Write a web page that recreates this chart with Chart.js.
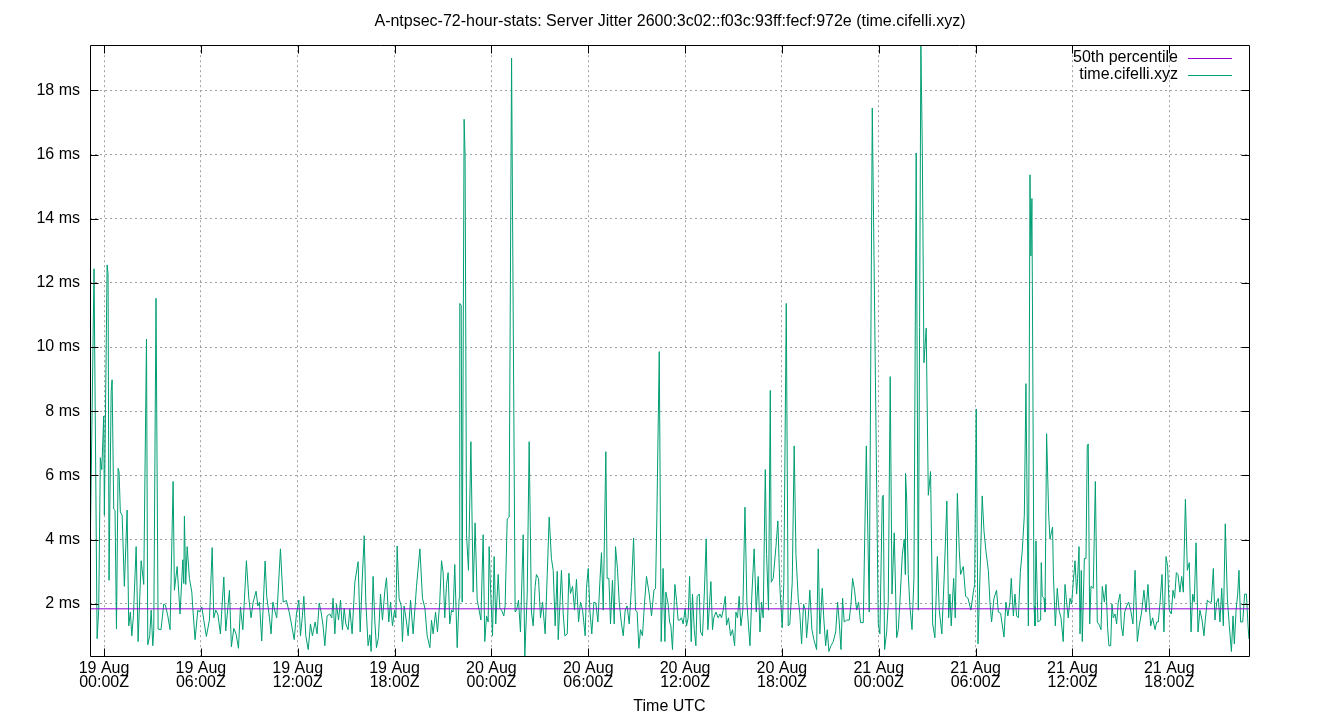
<!DOCTYPE html>
<html><head><meta charset="utf-8">
<script src="https://cdn.jsdelivr.net/npm/chart.js@4/dist/chart.umd.min.js"></script>
<style>html,body{margin:0;padding:0;background:#fff}#wrap{width:1340px;height:720px}</style>
</head><body><div id="wrap"><canvas id="c" width="1340" height="720"></canvas></div>
<script>
// hours since 19 Aug 00:00Z
const hours = [
-0.87,-0.62,-0.43,-0.33,-0.23,-0.14,-0.02,0.02,0.19,0.25,0.31,0.44,0.50,0.60,0.68,0.77,0.87,0.93,1.01,1.12,
1.26,1.43,1.53,1.63,1.72,1.82,1.99,2.11,2.30,2.46,2.63,2.71,2.83,2.92,3.02,3.08,3.22,3.35,3.53,3.70,
3.80,3.95,4.09,4.28,4.36,4.53,4.71,4.88,4.94,4.98,5.06,5.15,5.29,5.44,5.50,5.64,5.81,5.91,6.06,6.18,
6.34,6.53,6.70,6.80,6.92,7.05,7.21,7.42,7.54,7.77,7.89,8.04,8.18,8.33,8.45,8.60,8.82,8.97,9.11,9.24,
9.42,9.53,9.63,9.77,9.98,10.08,10.25,10.35,10.46,10.60,10.70,10.93,11.10,11.30,11.47,11.61,11.78,11.92,12.07,12.17,
12.29,12.38,12.50,12.65,12.79,12.91,13.08,13.20,13.33,13.45,13.57,13.68,13.82,13.99,14.11,14.19,14.30,14.40,14.53,14.65,
14.77,14.88,14.98,15.12,15.23,15.37,15.54,15.74,15.87,15.99,16.12,16.22,16.36,16.47,16.55,16.67,16.78,16.88,17.00,17.13,
17.25,17.40,17.50,17.64,17.75,17.87,18.00,18.08,18.16,18.28,18.41,18.49,18.59,18.74,18.84,18.99,19.15,19.36,19.57,19.73,
19.88,20.02,20.19,20.29,20.39,20.54,20.66,20.80,20.91,21.01,21.11,21.22,21.32,21.42,21.53,21.63,21.73,21.88,22.00,22.04,
22.13,22.19,22.31,22.37,22.46,22.58,22.73,22.87,22.99,23.12,23.24,23.35,23.49,23.59,23.70,23.80,23.86,23.96,24.07,24.17,
24.27,24.42,24.52,24.63,24.77,24.85,24.98,25.10,25.25,25.47,25.56,25.68,25.80,25.97,26.07,26.22,26.34,26.48,26.59,26.71,
26.79,26.92,27.04,27.17,27.33,27.46,27.58,27.72,27.83,27.95,28.08,28.14,28.24,28.34,28.45,28.55,28.70,28.80,28.90,29.03,
29.15,29.27,29.40,29.52,29.65,29.81,29.89,30.00,30.10,30.22,30.35,30.47,30.60,30.72,30.82,30.93,31.09,31.17,31.28,31.38,
31.50,31.61,31.69,31.81,31.92,32.06,32.17,32.29,32.41,32.54,32.68,32.81,32.93,33.03,33.14,33.24,33.36,33.49,33.61,33.78,
33.92,34.07,34.17,34.25,34.40,34.52,34.64,34.75,34.81,34.95,35.04,35.12,35.22,35.37,35.47,35.57,35.68,35.78,35.88,36.01,
36.09,36.19,36.28,36.38,36.46,36.57,36.67,36.75,36.88,36.96,37.08,37.19,37.31,37.41,37.50,37.60,37.70,37.78,37.91,38.05,
38.16,38.26,38.36,38.49,38.57,38.69,38.82,38.94,39.07,39.15,39.25,39.35,39.46,39.58,39.71,39.83,39.93,40.02,40.14,40.28,
40.41,40.53,40.64,40.74,40.84,40.97,41.05,41.17,41.28,41.34,41.46,41.63,41.75,41.87,42.02,42.12,42.27,42.39,42.49,42.64,
42.76,42.87,43.01,43.11,43.22,43.34,43.45,43.53,43.63,43.73,43.86,43.98,44.15,44.25,44.35,44.50,44.60,44.71,44.81,44.91,
45.04,45.18,45.33,45.45,45.55,45.66,45.76,45.86,46.01,46.17,46.28,46.38,46.50,46.63,46.75,46.87,47.04,47.23,47.41,47.60,
47.97,48.07,48.22,48.28,48.36,48.49,48.59,48.71,48.82,48.96,49.11,49.21,49.31,49.46,49.58,49.64,49.66,49.73,49.83,49.93,
50.06,50.18,50.32,50.45,50.61,50.70,50.80,50.94,51.07,51.21,51.34,51.48,51.63,51.75,51.91,52.06,52.22,52.33,52.41,52.49,
52.64,52.74,52.87,52.99,53.07,53.24,53.38,53.53,53.71,53.86,53.94,54.04,54.15,54.31,54.41,54.52,54.64,54.79,54.89,54.99,
55.14,55.30,55.41,55.55,55.76,55.88,56.00,56.13,56.21,56.34,56.44,56.54,56.65,56.77,56.89,57.02,57.12,57.27,57.37,57.43,
57.49,57.62,57.68,57.74,57.86,58.03,58.07,58.13,58.24,58.30,58.40,58.53,58.61,58.77,58.82,58.94,59.06,59.17,59.29,59.43,
59.54,59.64,59.74,59.85,59.95,60.05,60.16,60.26,60.32,60.41,60.47,60.55,60.61,60.74,60.84,60.92,60.98,61.07,61.15,61.29,
61.42,61.54,61.67,61.77,61.85,61.98,62.08,62.18,62.26,62.37,62.45,62.53,62.64,62.74,62.84,62.95,63.03,63.13,63.24,63.36,
63.48,63.61,63.75,63.88,64.02,64.14,64.29,64.43,64.56,64.68,64.76,64.85,64.97,65.12,65.22,65.32,65.43,65.55,65.67,65.80,
65.90,66.00,66.13,66.23,66.33,66.44,66.54,66.66,66.77,66.87,67.00,67.12,67.24,67.35,67.45,67.55,67.66,67.78,67.90,68.03,
68.15,68.23,68.36,68.48,68.61,68.73,68.83,68.94,69.04,69.14,69.25,69.35,69.47,69.60,69.72,69.85,69.95,70.03,70.14,70.24,
70.32,70.42,70.55,70.67,70.78,70.88,70.94
];
// server jitter, ms
const jitterMs = [
3.2,12.44,0.91,1.8,6.55,6.18,7.85,4.76,12.56,12.29,2.73,8.61,8.98,4.95,4.91,1.21,6.22,6.12,4.86,4.76,
2.54,4.92,1.31,1.74,1.0,1.62,3.78,0.82,3.34,2.6,10.25,0.72,1.0,1.8,0.69,1.15,11.52,1.21,1.19,1.99,
1.96,1.62,1.19,5.81,2.42,3.16,1.68,3.37,2.63,4.73,2.6,3.78,2.79,2.36,1.86,0.88,1.8,1.74,1.9,1.49,
0.98,1.49,3.75,1.56,1.8,1.68,1.06,2.83,1.15,2.42,0.66,1.23,1.06,0.61,1.9,1.19,3.34,2.17,1.56,2.05,
2.39,1.93,2.05,0.84,3.33,2.23,1.56,1.06,2.05,1.74,1.56,3.71,2.05,2.1,1.74,1.37,0.88,1.68,2.11,1.0,
1.62,2.23,1.0,0.57,1.37,1.0,1.43,1.06,2.02,1.74,1.31,0.69,1.62,1.68,1.56,2.17,1.06,1.99,1.49,2.11,
1.19,1.86,1.37,1.19,1.84,1.06,2.67,3.31,1.12,2.67,4.12,2.05,0.69,1.03,0.51,2.85,1.43,0.63,0.94,2.3,
1.49,2.42,2.81,1.43,2.05,1.31,1.8,1.56,3.8,2.17,1.93,0.82,1.93,1.43,1.0,2.11,1.06,2.54,3.71,2.17,
1.86,1.0,0.63,1.49,1.06,1.74,1.12,2.05,3.34,2.97,1.56,2.6,2.97,1.37,1.8,1.74,3.22,0.63,2.17,11.36,
11.3,2.05,17.1,15.99,4.15,3.04,7.05,2.36,4.52,2.11,1.8,1.49,4.15,0.82,1.62,1.43,3.78,2.3,1.0,3.47,
1.37,2.91,1.86,1.8,1.62,1.93,4.64,4.7,19.01,1.74,1.8,2.11,1.12,4.15,0.37,2.3,7.05,1.74,1.31,2.54,
2.91,2.79,1.56,2.05,1.06,2.91,4.7,3.41,3.04,1.31,3.01,0.88,1.93,3.04,1.68,1.0,1.06,2.95,2.32,2.54,
1.8,2.76,1.43,2.05,1.8,1.0,2.48,3.1,1.8,1.06,2.05,2.02,1.43,2.67,3.59,1.8,6.74,2.79,2.79,1.37,
2.73,1.37,3.78,3.1,2.05,1.37,1.0,1.8,1.93,1.37,2.54,4.05,1.8,1.74,0.61,1.19,1.0,2.05,2.85,2.3,
1.62,2.42,2.48,4.64,9.86,0.82,3.1,0.82,2.36,1.99,1.43,1.31,0.57,2.6,2.11,1.49,1.49,1.56,1.37,1.86,
1.31,1.56,2.85,0.82,2.3,1.19,0.69,2.23,2.3,1.12,1.0,2.3,4.02,1.19,1.86,2.69,1.19,1.56,1.74,1.56,
1.68,1.56,1.8,2.23,1.33,1.56,1.0,1.19,0.69,1.74,1.56,2.23,1.31,1.8,5.01,2.05,1.31,0.69,2.3,3.71,
1.74,2.85,1.12,2.05,1.56,6.18,3.53,1.8,8.65,2.67,2.79,3.78,4.58,2.54,1.25,2.67,11.36,1.31,1.37,2.67,
6.92,3.53,2.17,1.68,0.75,1.99,1.8,0.94,1.56,2.42,1.19,0.88,0.57,3.71,1.06,2.48,1.49,0.69,1.19,0.51,
0.69,0.82,1.12,2.05,1.43,0.57,2.17,1.43,1.49,1.49,1.99,2.79,2.42,1.8,2.05,1.41,1.41,6.92,1.74,17.45,
1.37,1.06,5.32,5.38,0.57,1.12,2.05,9.08,2.3,4.21,0.94,1.19,2.05,3.53,4.02,2.91,6.06,5.26,2.91,1.93,
1.19,2.79,16.05,1.8,19.41,16.11,9.51,10.59,5.38,6.12,1.37,0.94,3.47,1.8,1.06,2.91,5.2,1.56,2.3,1.31,
2.79,1.56,5.44,3.65,2.91,3.16,2.23,2.17,1.8,2.36,2.6,8.07,0.75,3.53,5.36,4.27,3.65,3.04,2.05,1.43,
2.17,2.42,1.74,1.7,0.96,2.05,1.62,2.05,2.79,1.62,2.3,1.62,1.56,2.97,3.65,4.76,8.86,1.31,15.37,12.84,
14.63,1.93,1.31,3.96,1.43,1.49,3.28,2.23,2.17,1.74,7.3,4.76,4.02,4.39,2.91,1.31,2.48,1.8,1.56,0.82,
2.6,2.05,1.56,2.17,1.99,2.67,3.34,2.3,2.79,3.78,1.06,3.04,0.82,3.41,3.41,6.92,6.98,1.37,2.54,2.48,
5.81,1.43,1.33,1.19,2.54,2.05,2.6,1.25,0.69,0.69,1.99,1.56,1.68,1.37,2.05,2.3,1.31,1.0,1.74,1.93,
2.05,1.8,1.37,3.04,0.82,1.31,1.74,2.42,1.74,2.6,1.93,1.31,1.56,1.19,1.43,1.43,2.05,2.91,1.12,3.47,
3.16,1.8,1.68,2.42,2.17,2.97,2.91,2.36,2.85,2.36,5.26,3.04,3.28,1.12,2.3,2.05,3.9,1.12,1.8,1.49,
1.0,1.49,2.11,2.05,2.05,3.1,1.49,2.05,2.17,1.43,2.48,1.31,4.49,2.17,1.31,0.51,1.62,0.75,1.8,2.3,
3.04,1.43,1.43,2.3,2.3,1.31,0.9
];
const percentile50Ms = 1.84;

const xTickHours = [0, 6, 12, 18, 24, 30, 36, 42, 48, 54, 60, 66];
const xTickDays  = ["19 Aug","19 Aug","19 Aug","19 Aug","20 Aug","20 Aug","20 Aug","20 Aug","21 Aug","21 Aug","21 Aug","21 Aug"];
const xTickTimes = ["00:00Z","06:00Z","12:00Z","18:00Z","00:00Z","06:00Z","12:00Z","18:00Z","00:00Z","06:00Z","12:00Z","18:00Z"];
const yTickMs = [2, 4, 6, 8, 10, 12, 14, 16, 18];
const seriesNames = ["50th percentile", "time.cifelli.xyz"];
const titleText = "A-ntpsec-72-hour-stats: Server Jitter 2600:3c02::f03c:93ff:fecf:972e (time.cifelli.xyz)";
const xAxisTitle = "Time UTC";

const FONT = '"Liberation Sans", Arial, sans-serif';
Chart.defaults.font.family = FONT;
Chart.defaults.font.size = 16;
Chart.defaults.color = '#000';

const xMin = hours[0], xMax = hours[hours.length - 1];
const yMin = Math.min(...jitterMs), yMax = Math.max(...jitterMs);

const framePlugin = {
  id: 'frame',
  afterDraw(chart) {
    const ctx = chart.ctx, a = chart.chartArea;
    const xs = chart.scales.x, ys = chart.scales.y;
    const L = Math.round(a.left) + 0.5, R = Math.round(a.right) + 0.5;
    const T = Math.round(a.top) + 0.5, B = Math.round(a.bottom) + 0.5;
    ctx.save();
    ctx.strokeStyle = '#000';
    ctx.lineWidth = 1;
    ctx.beginPath();
    ctx.rect(L, T, R - L, B - T);
    const tl = 8;
    xTickHours.forEach(v => {
      const px = Math.round(xs.getPixelForValue(v)) + 0.5;
      ctx.moveTo(px, B); ctx.lineTo(px, B - tl);
      ctx.moveTo(px, T); ctx.lineTo(px, T + tl);
    });
    yTickMs.forEach(v => {
      const py = Math.round(ys.getPixelForValue(v)) + 0.5;
      ctx.moveTo(L, py); ctx.lineTo(L + tl, py);
      ctx.moveTo(R, py); ctx.lineTo(R - tl, py);
    });
    ctx.stroke();
    // legend inside top-right
    ctx.font = '16px ' + FONT;
    ctx.textAlign = 'right';
    ctx.textBaseline = 'middle';
    ctx.fillStyle = '#000';
    const rows = [
      {name: seriesNames[0], color: '#9400d3'},
      {name: seriesNames[1], color: '#009e73'}
    ];
    rows.forEach((r, i) => {
      const y = 58 + i * 17;
      ctx.fillText(r.name, 1178, y);
      ctx.beginPath();
      ctx.strokeStyle = r.color;
      ctx.moveTo(1188, Math.round(y) + 0.5);
      ctx.lineTo(1232, Math.round(y) + 0.5);
      ctx.stroke();
    });
    ctx.restore();
  }
};

new Chart(document.getElementById('c'), {
  type: 'line',
  data: {
    datasets: [
      {
        label: seriesNames[0],
        data: [{x: xMin, y: percentile50Ms}, {x: xMax, y: percentile50Ms}],
        borderColor: '#9400d3', borderWidth: 1, pointRadius: 0, tension: 0, order: 0
      },
      {
        label: seriesNames[1],
        data: hours.map((h, i) => ({x: h, y: jitterMs[i]})),
        borderColor: '#009e73', borderWidth: 1, pointRadius: 0, tension: 0, order: 1
      }
    ]
  },
  options: {
    responsive: false,
    devicePixelRatio: 1,
    animation: false,
    events: [],
    layout: {padding: 0},
    plugins: {
      legend: {display: false},
      tooltip: {enabled: false},
      title: {
        display: true, text: titleText, color: '#000',
        font: {size: 16, weight: 'normal', family: FONT},
        padding: {top: 12, bottom: 14}
      }
    },
    scales: {
      x: {
        type: 'linear', min: xMin, max: xMax,
        afterBuildTicks: s => { s.ticks = xTickHours.map(v => ({value: v})); },
        afterFit: s => { s.height = 64; },
        ticks: {
          autoSkip: false, maxRotation: 0, minRotation: 0, padding: 6, color: '#000',
          font: {size: 16, lineHeight: 0.875},
          callback: v => { const i = xTickHours.indexOf(v); return i >= 0 ? [xTickDays[i], xTickTimes[i]] : ''; }
        },
        grid: {color: '#a0a0a0', lineWidth: 1, drawTicks: false},
        border: {display: false, dash: [2, 3]},
        title: {display: true, text: xAxisTitle, color: '#000', font: {size: 16}, padding: {top: 0, bottom: 4}}
      },
      y: {
        type: 'linear', min: yMin, max: yMax,
        afterBuildTicks: s => { s.ticks = yTickMs.map(v => ({value: v})); },
        afterFit: s => { s.width = 90; },
        ticks: {padding: 10, color: '#000', font: {size: 16}, callback: v => v + ' ms'},
        grid: {color: '#a0a0a0', lineWidth: 1, drawTicks: false},
        border: {display: false, dash: [2, 3]}
      },
      yRightMargin: {
        type: 'linear', position: 'right', display: true, min: 0, max: 1,
        afterFit: s => { s.width = 91; },
        ticks: {display: false},
        grid: {display: false, drawTicks: false},
        border: {display: false}
      }
    }
  },
  plugins: [framePlugin]
});
</script>
</body></html>
